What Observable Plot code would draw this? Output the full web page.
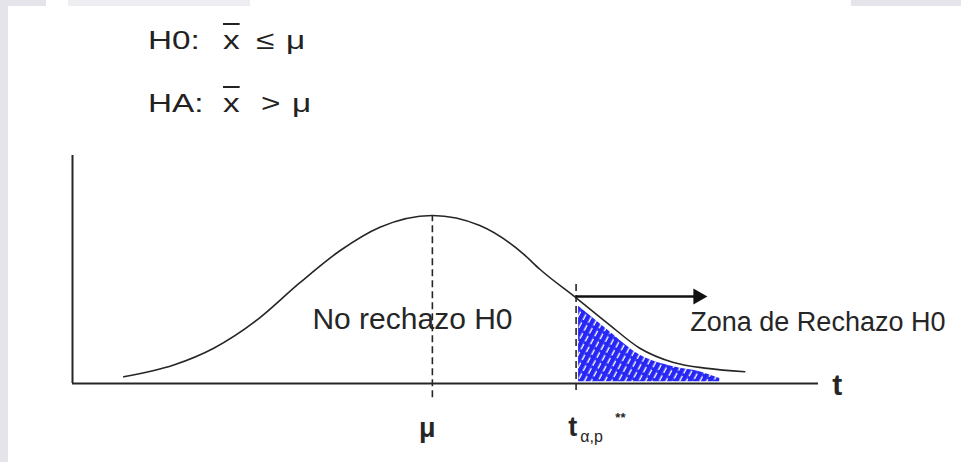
<!DOCTYPE html>
<html>
<head>
<meta charset="utf-8">
<script src="https://cdn.jsdelivr.net/npm/d3@7"></script>
<script src="https://cdn.jsdelivr.net/npm/@observablehq/plot@0.6"></script>
<style>
  html, body { margin: 0; padding: 0; background: #fff; }
  #page { position: relative; width: 961px; height: 462px; overflow: hidden; background: #fff;
          font-family: "Liberation Sans", Arial, sans-serif; color: #222; }
  #header { position: relative; height: 140px; }
  #header span { position: absolute; font-size: 26px; line-height: 26px; white-space: nowrap;
                 transform: scaleX(1.28); transform-origin: 0 50%; }
  .bar { text-decoration: overline; }
  .strip { position: absolute; background: #e4e4ea; z-index: 5; }
</style>
</head>
<body>
<div id="page">
  <div class="strip" style="left:0;top:0;width:8px;height:462px"></div>
  <div class="strip" style="left:0;top:0;width:46px;height:6px"></div>
  <div class="strip" style="left:68px;top:0;width:182px;height:6px;background:#eeeef2"></div>
  <div class="strip" style="left:851px;top:0;width:110px;height:6px"></div>
  <div id="header">
    <span style="left:148px;top:27px">H0:</span>
    <span class="bar" style="left:223px;top:27px">x</span>
    <span style="left:256px;top:27px">≤</span>
    <span style="left:286px;top:27px">μ</span>
    <span style="left:148px;top:90px">HA:</span>
    <span class="bar" style="left:223px;top:90px">x</span>
    <span style="left:261px;top:90px">&gt;</span>
    <span style="left:292px;top:90px">μ</span>
  </div>
  <div id="chart"></div>
</div>
<script>
// Bell curve (t in σ units from μ, density relative to peak)
const curveT = [-2.47, -2.07, -1.75, -1.40, -1.06, -0.74, -0.42, 0, 0.38, 0.73, 0.86, 1.15, 1.40, 1.66, 1.93, 2.20, 2.50];
const curveD = [0.04, 0.11, 0.21, 0.38, 0.60, 0.79, 0.93, 1.00, 0.94, 0.77, 0.68, 0.51, 0.36, 0.21, 0.125, 0.09, 0.07];

// Hatched rejection region (blue scribble)
const shadeT = [1.17, 1.40, 1.66, 1.93, 2.14, 2.30];
const shadeTop = [0.46, 0.32, 0.17, 0.10, 0.07, 0.03];
const shadeBottom = 0.01;

// Axis extents
const tMin = -2.88, tMax = 3.09, dMax = 1.357;
const muT = 0;
const critT = 1.15;

// Dashed guide lines
const dashT = [muT, critT];
const dashLo = [-0.085, -0.042];
const dashHi = [1.0, 0.595];

// Arrow toward the rejection zone
const arrowY = 0.518;
const arrowFrom = critT, arrowTo = 2.13, arrowHeadT = 2.126;

const curve = curveT.map((t, i) => ({t, d: curveD[i]}));
const shade = shadeT.map((t, i) => ({t, d: shadeTop[i], b: shadeBottom}));
const dashes = dashT.map((t, i) => ({t, lo: dashLo[i], hi: dashHi[i]}));

const ink = "#262626";
const font = "'Liberation Sans', Arial, sans-serif";

const plot = Plot.plot({
  width: 961,
  height: 322,
  marginLeft: 72,
  marginRight: 143,
  marginTop: 15,
  marginBottom: 79,
  x: {domain: [tMin, tMax], axis: null},
  y: {domain: [0, dMax], axis: null},
  style: {fontFamily: font, color: ink, background: "transparent", overflow: "visible"},
  marks: [
    () => {
      const defs = d3.create("svg:defs");
      const p = defs.append("pattern")
        .attr("id", "hatch").attr("patternUnits", "userSpaceOnUse")
        .attr("width", 6).attr("height", 9)
        .attr("patternTransform", "rotate(28)");
      p.append("rect").attr("width", 6).attr("height", 9).attr("fill", "#ffffff");
      p.append("rect").attr("width", 4.6).attr("height", 9).attr("fill", "#2727f5");
      p.append("rect").attr("x", 4.4).attr("y", 2).attr("width", 1.6).attr("height", 3).attr("fill", "#2727f5");
      return defs.node();
    },
    Plot.areaY(shade, {x: "t", y1: "b", y2: "d", curve: "monotone-x", fill: "url(#hatch)"}),
    Plot.ruleY([0], {x1: tMin, x2: tMax, stroke: ink, strokeWidth: 2}),
    Plot.ruleX([tMin], {y1: 0, y2: dMax, stroke: ink, strokeWidth: 2}),
    Plot.line(curve, {x: "t", y: "d", curve: "monotone-x", stroke: ink, strokeWidth: 1.6}),
    Plot.ruleX(dashes, {x: "t", y1: "lo", y2: "hi", stroke: ink, strokeWidth: 1.6, strokeDasharray: "7,4"}),
    Plot.ruleY([arrowY], {x1: arrowFrom, x2: arrowTo, stroke: "#111", strokeWidth: 2.5}),
    Plot.dot([arrowHeadT], {x: d => d, y: arrowY, symbol: "triangle", rotate: 90, r: 6, fill: "#111", stroke: "none"}),
    Plot.text(["No rechazo H0"], {x: -0.96, y: 0.327, text: d => d, textAnchor: "start", lineAnchor: "bottom", fontSize: 30, fill: ink}),
    Plot.text(["Zona de Rechazo H0"], {x: 2.064, y: 0.31, text: d => d, textAnchor: "start", lineAnchor: "bottom", fontSize: 27, fill: ink}),
    Plot.text(["μ"], {x: -0.04, y: -0.321, text: d => d, textAnchor: "middle", lineAnchor: "bottom", fontSize: 27, fontWeight: "bold", fill: ink}),
    Plot.text(["t"], {x: 1.088, y: -0.315, text: d => d, textAnchor: "start", lineAnchor: "bottom", fontSize: 27, fontWeight: "bold", fill: ink}),
    Plot.text(["α,p"], {x: 1.184, y: -0.351, text: d => d, textAnchor: "start", lineAnchor: "bottom", fontSize: 16, fill: ink}),
    Plot.text(["**"], {x: 1.464, y: -0.229, text: d => d, textAnchor: "start", lineAnchor: "bottom", fontSize: 13, fontWeight: "bold", fill: ink}),
    Plot.text(["t"], {x: 3.2, y: -0.071, text: d => d, textAnchor: "start", lineAnchor: "bottom", fontSize: 30, fontWeight: "bold", fill: ink})
  ]
});
document.getElementById("chart").appendChild(plot);
</script>
</body>
</html>
